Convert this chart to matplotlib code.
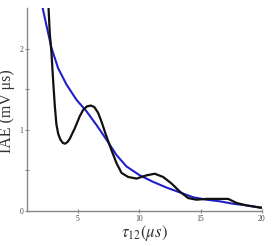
import matplotlib
matplotlib.use("Agg")
import matplotlib.pyplot as plt

black_x = [2.61, 2.71, 2.85, 2.98, 3.12, 3.25, 3.40, 3.58, 3.77, 3.96, 4.15, 4.34, 4.75,
           5.16, 5.45, 5.75, 6.06, 6.35, 6.65, 6.93, 7.33, 7.74, 8.15, 8.56, 9.10, 9.78, 10.59, 11.27,
           11.95, 12.63, 13.31, 13.99, 14.67, 15.49, 16.43, 17.25, 17.93, 18.74, 19.56, 20.0]
black_y = [2.51, 2.19, 1.95, 1.62, 1.30, 1.07, 0.95, 0.88, 0.84, 0.83, 0.85, 0.89, 1.02,
           1.17, 1.25, 1.29, 1.30, 1.28, 1.21, 1.10, 0.92, 0.75, 0.59, 0.47, 0.42, 0.40, 0.44, 0.46,
           0.42, 0.34, 0.24, 0.16, 0.14, 0.15, 0.15, 0.15, 0.10, 0.07, 0.05, 0.04]

blue_x = [2.12, 2.45, 2.85, 3.39, 4.07, 4.89, 5.70, 6.52, 7.33, 8.15, 8.96, 10.05,
          11.13, 12.22, 13.31, 14.39, 15.49, 16.57, 17.65, 18.74, 20.0]
blue_y = [2.51, 2.28, 2.01, 1.76, 1.56, 1.37, 1.23, 1.06, 0.88, 0.69, 0.55, 0.44,
          0.36, 0.29, 0.23, 0.17, 0.14, 0.12, 0.09, 0.07, 0.04]

x_ticks = [5, 10, 15, 20]
y_ticks = [0, 1, 2]
y_minor = [0.5, 1.5]

plt.rcParams['mathtext.fontset'] = 'stix'
fig = plt.figure(figsize=(2.72, 2.46), dpi=100)
ax = fig.add_axes([0.099, 0.142, 0.864, 0.825])

ax.plot(blue_x, blue_y, color='#2020c8', lw=1.5, solid_capstyle='round', solid_joinstyle='round')
ax.plot(black_x, black_y, color='#111111', lw=1.6, solid_capstyle='round', solid_joinstyle='round')

ax.set_xlim(0.85, 20)
ax.set_ylim(0, 2.5)
ax.set_xticks(x_ticks)
ax.set_xticklabels([str(t) for t in x_ticks])
ax.set_yticks(y_ticks)
ax.set_yticklabels([str(t) for t in y_ticks])
ax.set_yticks(y_minor, minor=True)

for s in ['top', 'right']:
    ax.spines[s].set_visible(False)
for s in ['left', 'bottom']:
    ax.spines[s].set_color('#888888')
    ax.spines[s].set_linewidth(1.0)

ax.tick_params(axis='both', which='both', direction='inout', length=3, width=0.8,
               color='#888888', labelsize=5.5, pad=1)
for lab in ax.get_xticklabels() + ax.get_yticklabels():
    lab.set_family('Liberation Serif')
    lab.set_color('#444444')

ax.set_ylabel('IAE (mV μs)', family='Liberation Serif', fontsize=11.5, color='#333333')
ax.yaxis.set_label_coords(-0.05, 0.49)
ax.set_xlabel('$\\tau_{12}(\\mu s)$', fontsize=12, color='#333333', labelpad=0)

fig.savefig('out.png', dpi=100)
